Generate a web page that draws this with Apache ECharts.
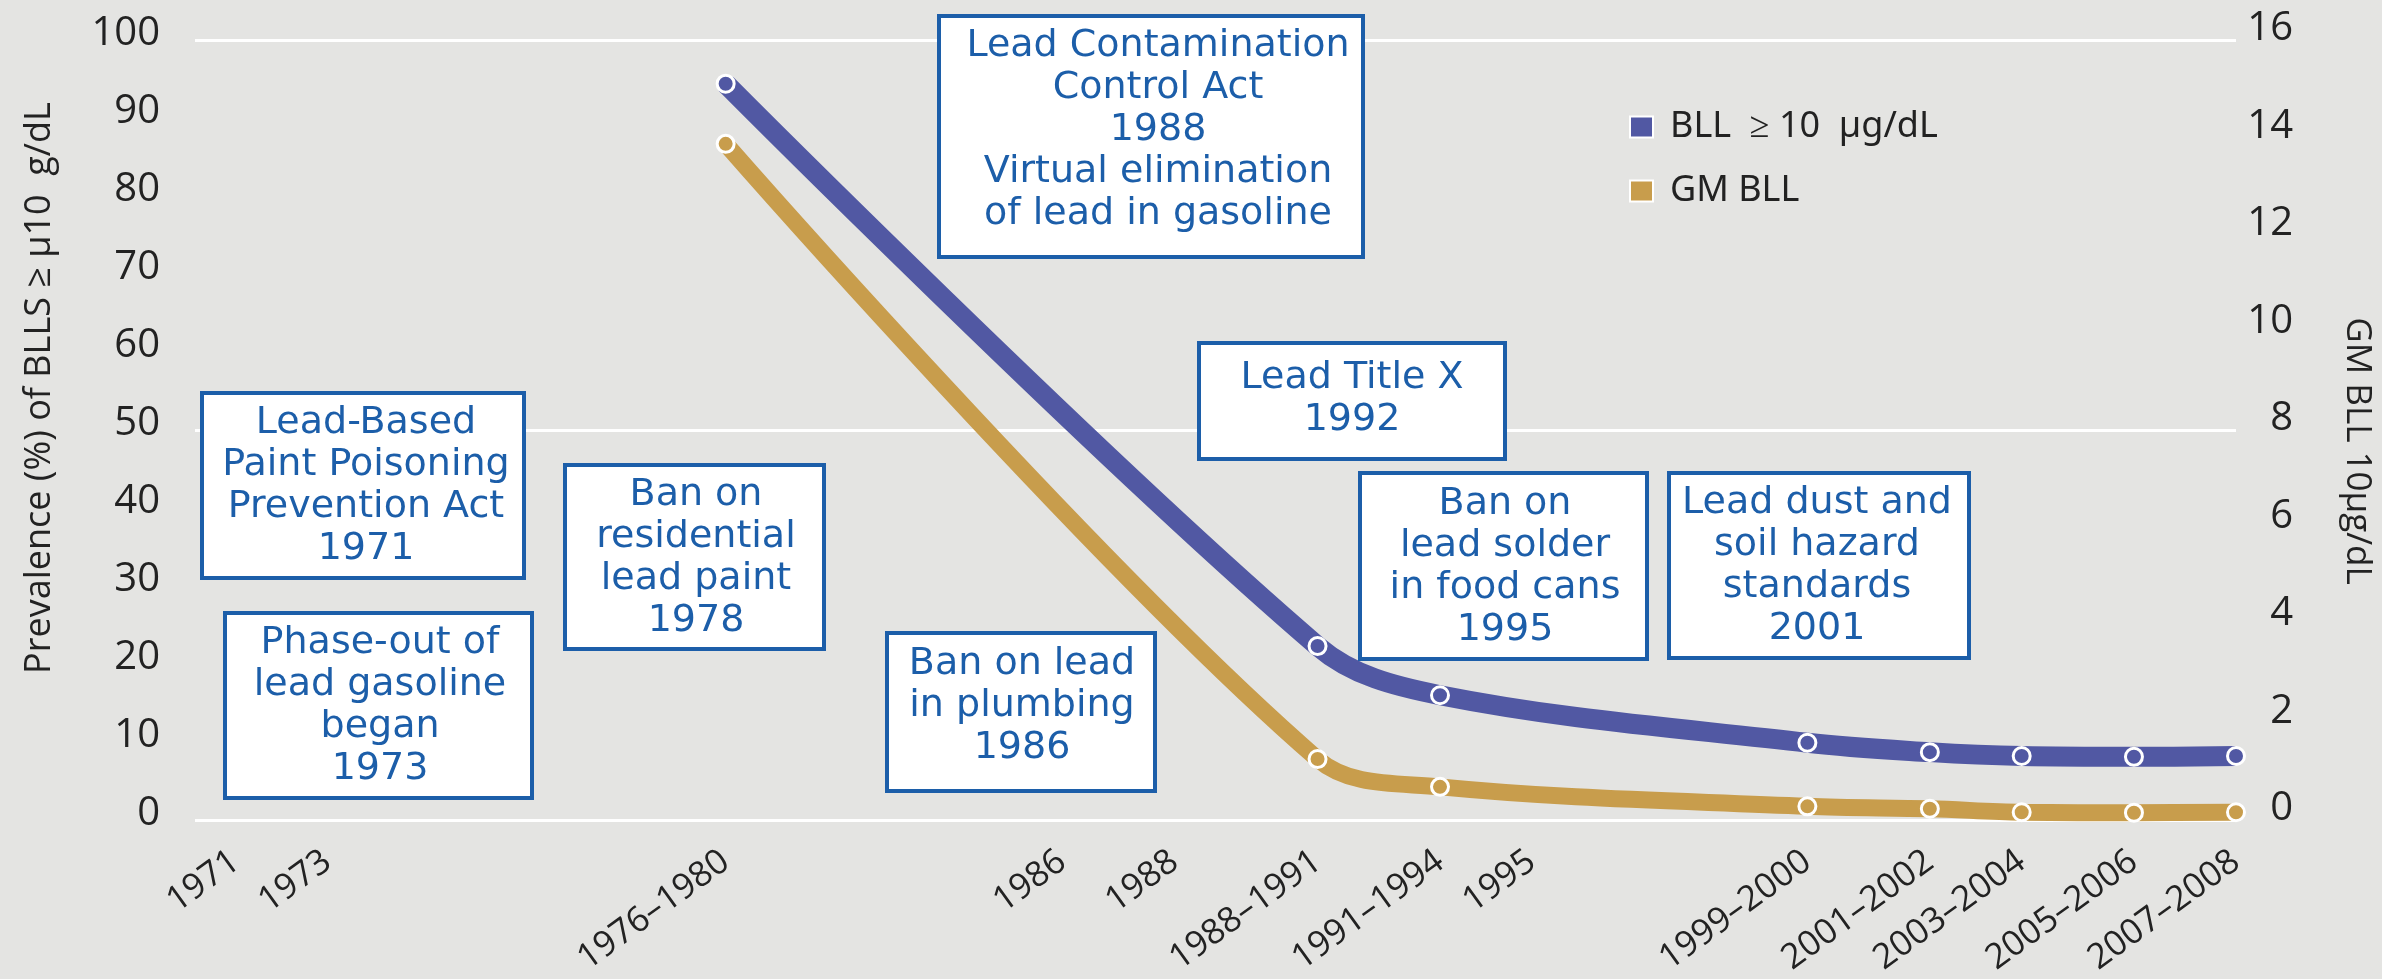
<!DOCTYPE html>
<html><head><meta charset="utf-8">
<script src="https://cdn.jsdelivr.net/npm/echarts@6/dist/echarts.min.js"></script>
<style>html,body{margin:0;padding:0;background:#e4e4e2}#c{width:2382px;height:979px}</style>
</head><body><div id="c"></div>
<script>
// ---- data ----
const blank = n => Array(n).fill('');
// x-axis categories (blank slots keep the uneven spacing of the original timeline)
const categories = [
  ...blank(4), '1971', ...blank(8), '1973', ...blank(38), '1976–1980', ...blank(32), '1986',
  ...blank(10), '1988', ...blank(13), '1988–1991', ...blank(11), '1991–1994', ...blank(8), '1995',
  ...blank(26), '1999–2000', ...blank(11), '2001–2002', ...blank(8), '2003–2004', ...blank(10),
  '2005–2006', ...blank(9), '2007–2008'
];
const periods = ['1976–1980','1988–1991','1991–1994','1999–2000','2001–2002','2003–2004','2005–2006','2007–2008'];
const bllPrevalence = [94.4, 22.3, 16.0, 9.9, 8.7, 8.2, 8.1, 8.2];   // % BLL >= 10 (left axis)
const gmBll = [13.87, 1.25, 0.68, 0.28, 0.23, 0.16, 0.15, 0.16];     // GM BLL µg/dL (right axis)
const leftTicks = {min: 0, max: 100, interval: 10};
const rightTicks = {min: 0, max: 16, interval: 2};
const seriesNames = ['BLL  ≥ 10  µg/dL', 'GM BLL'];
const leftAxisName = 'Prevalence (%) of BLLS ≥ µ10  g/dL';
const rightAxisName = 'GM BLL 10µg/dL';
const annotationTexts = [
  'Lead Contamination\nControl Act\n1988\nVirtual elimination\nof lead in gasoline',
  'Lead-Based\nPaint Poisoning\nPrevention Act\n1971',
  'Phase-out of\nlead gasoline\nbegan\n1973',
  'Ban on\nresidential\nlead paint\n1978',
  'Ban on lead\nin plumbing\n1986',
  'Lead Title X\n1992',
  'Ban on\nlead solder\nin food cans\n1995',
  'Lead dust and\nsoil hazard\nstandards\n2001'
];

// ---- layout (px) ----
const boxLayout = [
  [939, 16, 424, 241, 1158, 130],
  [202, 393, 322, 185, 366, 486],
  [225, 613, 307, 185, 380, 706],
  [565, 465, 259, 184, 696, 558],
  [887, 633, 268, 158, 1022, 706],
  [1199, 343, 306, 116, 1352, 399],
  [1360, 473, 287, 186, 1505, 567],
  [1669, 473, 300, 185, 1817, 566]
];

const toSeries = vals => categories.map(c => { const i = periods.indexOf(c); return (c && i >= 0) ? vals[i] : null; });

const BLUE = '#5158a3', GOLD = '#c89d4c', BOXBLUE = '#1c5ea9', TXT = '#222';

const graphics = [];
annotationTexts.forEach((t, k) => {
  const [x, y, w, h, cx, cy] = boxLayout[k];
  graphics.push({type: 'rect', z: 100, shape: {x, y, width: w, height: h},
    style: {fill: '#ffffff', stroke: BOXBLUE, lineWidth: 4}});
  graphics.push({type: 'text', z: 101, style: {text: t, x: cx, y: cy, align: 'center', verticalAlign: 'middle',
    textAlign: 'center', textVerticalAlign: 'middle',
    font: '38px "DejaVu Sans"', fill: BOXBLUE, lineHeight: 42}});
});
graphics.push({type: 'text', z: 101, x: 40, y: 388, rotation: Math.PI / 2,
  style: {text: leftAxisName, x: 0, y: 0, align: 'center', verticalAlign: 'middle', textAlign: 'center', textVerticalAlign: 'middle',
    font: '36px "Open Sans"', fill: TXT}});
graphics.push({type: 'text', z: 101, x: 2357, y: 451, rotation: -Math.PI / 2,
  style: {text: rightAxisName, x: 0, y: 0, align: 'center', verticalAlign: 'middle', textAlign: 'center', textVerticalAlign: 'middle',
    font: '35px "Open Sans"', fill: TXT}});

const chart = echarts.init(document.getElementById('c'), null, {renderer: 'canvas'});
chart.setOption({
  backgroundColor: '#e4e4e2',
  animation: false,
  grid: {left: 195, right: 146, top: 40, bottom: 159, containLabel: false, outerBoundsMode: 'none'},
  legend: {
    data: seriesNames, orient: 'vertical', left: 1624, top: 103, icon: 'rect',
    itemWidth: 23, itemHeight: 21, itemGap: 26,
    textStyle: {fontSize: 36, color: TXT, fontFamily: 'Noto Sans', lineHeight: 38, padding: [0, 0, 0, 12]}
  },
  xAxis: {
    type: 'category', data: categories, boundaryGap: false,
    axisLine: {show: false}, axisTick: {show: false}, splitLine: {show: false},
    axisLabel: {interval: 0, rotate: 36, margin: 38, fontSize: 35, color: TXT, fontFamily: 'Open Sans'}
  },
  yAxis: [
    {type: 'value', position: 'left', ...leftTicks,
      axisLine: {show: false}, axisTick: {show: false}, splitLine: {show: false},
      axisLabel: {margin: 35, fontSize: 40, color: TXT, fontFamily: 'Open Sans', verticalAlign: 'bottom', lineHeight: 12}},
    {type: 'value', position: 'right', ...rightTicks,
      axisLine: {show: false}, axisTick: {show: false}, splitLine: {show: false},
      axisLabel: {margin: 57, align: 'right', fontSize: 40, color: TXT, fontFamily: 'Open Sans', verticalAlign: 'bottom', lineHeight: 22}},
    {type: 'value', position: 'left', min: leftTicks.min, max: leftTicks.max, interval: 50,
      axisLine: {show: false}, axisTick: {show: false}, axisLabel: {show: false},
      splitLine: {show: true, lineStyle: {color: '#ffffff', width: 3}}}
  ],
  series: [
    {name: seriesNames[0], type: 'line', yAxisIndex: 0, data: toSeries(bllPrevalence), connectNulls: true,
      smooth: 0.35, symbol: 'circle', symbolSize: 17, showSymbol: true, z: 3,
      lineStyle: {color: BLUE, width: 20}, itemStyle: {color: BLUE, borderColor: '#ffffff', borderWidth: 3}},
    {name: seriesNames[1], type: 'line', yAxisIndex: 1, data: toSeries(gmBll), connectNulls: true,
      smooth: 0.35, symbol: 'circle', symbolSize: 17, showSymbol: true, z: 2,
      lineStyle: {color: GOLD, width: 17}, itemStyle: {color: GOLD, borderColor: '#ffffff', borderWidth: 3}}
  ],
  graphic: graphics
});
</script></body></html>
